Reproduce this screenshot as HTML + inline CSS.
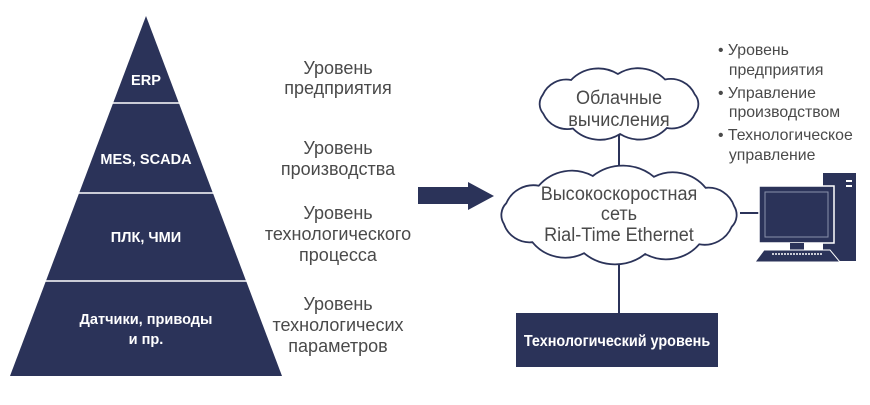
<!DOCTYPE html>
<html><head><meta charset="utf-8"><style>
body{margin:0;background:#fff;width:870px;height:400px;overflow:hidden}
svg text{font-family:"Liberation Sans Narrow","Liberation Sans",sans-serif}
</style></head><body>
<svg id="s" width="870" height="400" viewBox="0 0 870 400" xmlns="http://www.w3.org/2000/svg">
<polygon points="146,16 282,376 10,376" fill="#2b3359"/>
<line x1="100" y1="103" x2="182" y2="103" stroke="#fff" stroke-width="1.5"/>
<line x1="66" y1="193" x2="215" y2="193" stroke="#fff" stroke-width="1.5"/>
<line x1="33" y1="281" x2="248" y2="281" stroke="#fff" stroke-width="1.5"/>
<g fill="#fff" font-weight="bold" font-size="15" text-anchor="middle" transform="translate(146,0) scale(0.97,1) translate(-146,0)">
<text x="146" y="85">ERP</text>
<text x="146" y="164">MES, SCADA</text>
<text x="146" y="242">ПЛК, ЧМИ</text>
<text x="146" y="324">Датчики, приводы</text>
<text x="146" y="344">и пр.</text>
</g>
<g fill="#4a4a4a" font-size="18" text-anchor="middle" transform="translate(338,0) scale(1.0,1) translate(-338,0)">
<text x="338" y="74">Уровень</text><text x="338" y="94">предприятия</text>
<text x="338" y="154">Уровень</text><text x="338" y="175">производства</text>
<text x="338" y="219">Уровень</text><text x="338" y="240">технологического</text><text x="338" y="261">процесса</text>
<text x="338" y="310">Уровень</text><text x="338" y="331">технологичесих</text><text x="338" y="352">параметров</text>
</g>
<polygon points="418,187 468,187 468,182 494,196 468,210 468,204 418,204" fill="#2b3359"/>
<line x1="619" y1="135" x2="619" y2="175" stroke="#2b3359" stroke-width="2"/>
<line x1="619" y1="255" x2="619" y2="313" stroke="#2b3359" stroke-width="2"/>
<line x1="740" y1="213" x2="762" y2="213" stroke="#2b3359" stroke-width="2"/>
<path id="c1" fill="#fff" stroke="#2b3359" stroke-width="1.8"/>
<path id="c2" fill="#fff" stroke="#2b3359" stroke-width="1.8"/>
<g fill="#4a4a4a" font-size="19" text-anchor="middle" transform="translate(619,0) scale(0.95,1) translate(-619,0)">
<text x="619" y="104">Облачные</text><text x="619" y="126">вычисления</text>
<text x="619" y="200">Высокоскоростная</text><text x="619" y="220">сеть</text><text x="619" y="241">Rial-Time Ethernet</text>
</g>
<rect x="516" y="313" width="202" height="54" fill="#2b3359"/>
<text x="617" y="346" fill="#fff" font-weight="bold" font-size="16" text-anchor="middle" transform="translate(617,0) scale(0.9,1) translate(-617,0)">Технологический уровень</text>
<g fill="#4a4a4a" font-size="16" transform="translate(718,0) scale(0.99,1) translate(-718,0)">
<text x="718" y="55">• Уровень</text><text x="729" y="75">предприятия</text>
<text x="718" y="98">• Управление</text><text x="729" y="117">производством</text>
<text x="718" y="140">• Технологическое</text><text x="729" y="160">управление</text>
</g>
<rect x="823" y="173" width="33" height="88" fill="#2b3359"/>
<rect x="846" y="180" width="6" height="2" fill="#fff"/><rect x="846" y="185" width="6" height="2" fill="#fff"/>
<rect x="759" y="186" width="75" height="57" fill="#2b3359" stroke="#fff" stroke-width="1.5"/>
<rect x="765" y="192" width="63" height="45" fill="#2b3359" stroke="#8a90aa" stroke-width="1"/>
<rect x="790" y="243" width="14" height="7" fill="#2b3359"/>
<polygon points="764,250 830,250 840,262 755,262" fill="#2b3359" stroke="#fff" stroke-width="1"/>
<line x1="772" y1="254" x2="822" y2="254" stroke="#fff" stroke-width="1.5" stroke-dasharray="2,1"/>
</svg>
<script>
function cloud(cx,cy,rx,ry,n,f){var p=[];for(var i=0;i<n;i++){var a=Math.PI*2*i/n+0.3;p.push([cx+rx*Math.cos(a),cy+ry*Math.sin(a)]);}
var d="M"+p[0][0].toFixed(1)+","+p[0][1].toFixed(1);
for(var i=1;i<=n;i++){var a=p[i-1],b=p[i%n];var c=Math.hypot(b[0]-a[0],b[1]-a[1]);var r=(c*f).toFixed(1);d+=" A"+r+","+r+" 0 0 1 "+b[0].toFixed(1)+","+b[1].toFixed(1);}
return d+"Z";}
document.getElementById("c1").setAttribute("d",cloud(619,104,80,30,10,0.8));
document.getElementById("c2").setAttribute("d",cloud(619,215,118,40,12,0.8));
</script>
</body></html>
